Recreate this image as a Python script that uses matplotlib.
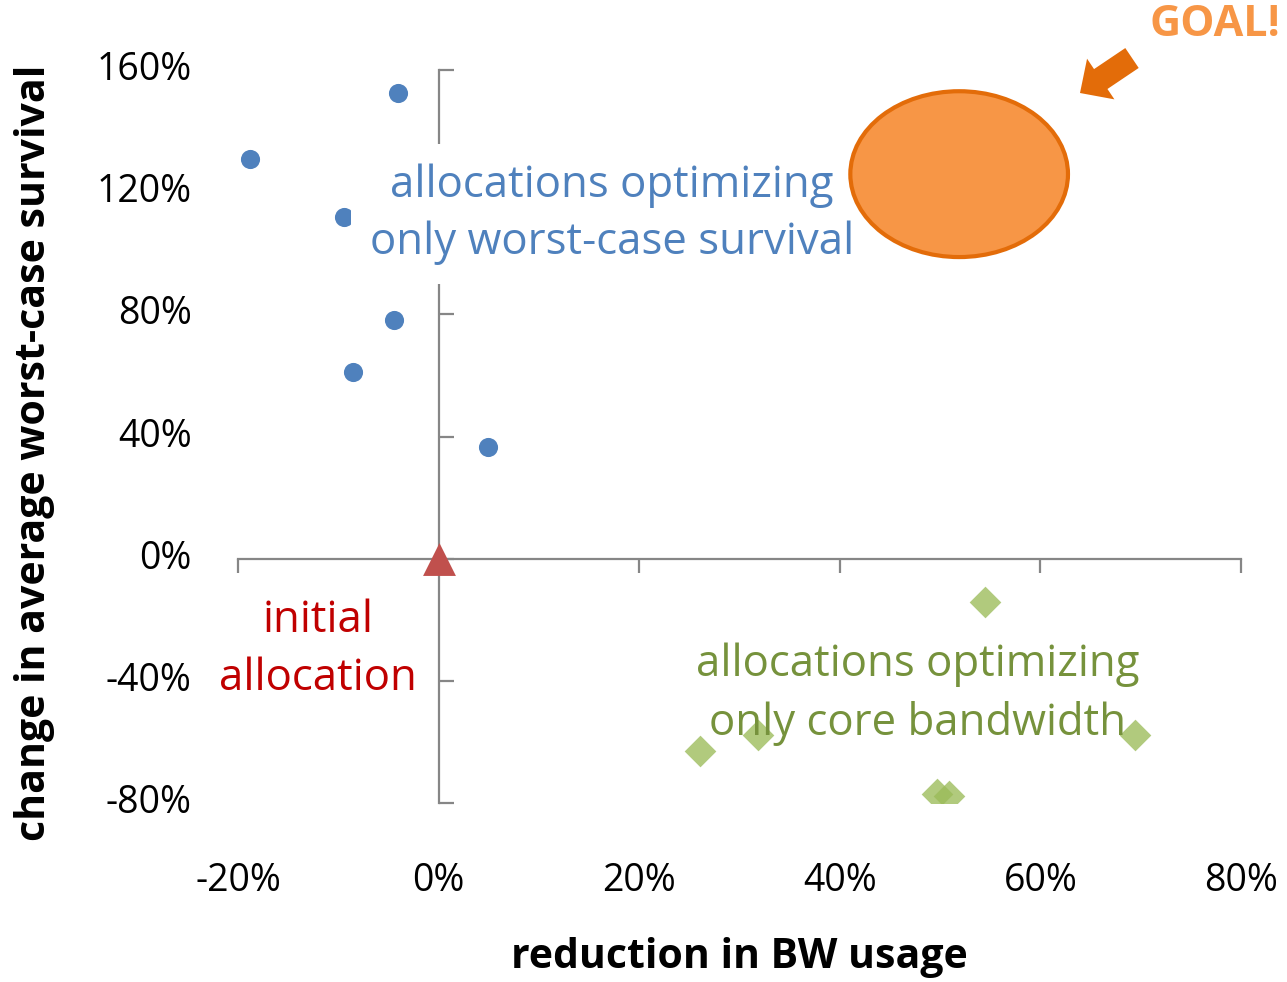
import matplotlib
matplotlib.use("Agg")
import matplotlib.pyplot as plt
from matplotlib.patches import Ellipse, FancyArrow
from matplotlib.transforms import IdentityTransform, blended_transform_factory

plt.rcParams['font.family'] = ['Open Sans', 'DejaVu Sans']

# worst-case survival optimized allocations (x: BW reduction %, y: survival change %)
survival_x = [-4.0, -18.8, -9.4, -4.4, -8.5, 4.9]
survival_y = [152.4, 131.0, 111.8, 78.2, 61.2, 36.6]

# core bandwidth optimized allocations
bandwidth_x = [54.5, 26.1, 31.8, 49.7, 50.9, 69.4]
bandwidth_y = [-14.1, -63.1, -57.6, -77.2, -77.8, -57.6]

# initial allocation
initial_x = [0.0]
initial_y = [0.0]

x_ticks = [-20, 0, 20, 40, 60, 80]
y_ticks = [-80, -40, 0, 40, 80, 120, 160]

# target region drawn as an ellipse (data units)
goal_center = (51.9, 125.9)
goal_size = (21.7, 54.3)

axis_grey = '#868686'

fig = plt.figure(figsize=(12.87, 9.82), dpi=100)
ax = fig.add_axes([238 / 1287, 1 - 803 / 982, (1241 - 238) / 1287, (803 - 70) / 982])
ax.set_xlim(-20, 80)
ax.set_ylim(-80, 160)

for side in ['top', 'right']:
    ax.spines[side].set_visible(False)
ax.spines['left'].set_position(('data', 0))
ax.spines['bottom'].set_position(('data', 0))
for side in ['left', 'bottom']:
    ax.spines[side].set_color(axis_grey)
    ax.spines[side].set_linewidth(1.6)
ax.set_xticks(x_ticks)
ax.set_yticks(y_ticks)
ax.set_xticklabels([])
ax.set_yticklabels([])
ax.tick_params(axis='y', direction='in', length=11, width=1.6, color=axis_grey)
ax.tick_params(axis='x', direction='out', length=10, width=1.6, color=axis_grey)

# tick labels sit at the outer edges, not next to the spines
ty = blended_transform_factory(ax.transAxes, ax.transData)
for v in y_ticks:
    ax.text(-0.046, v, f'{v}%', transform=ty, ha='right', va='center', fontsize=27)
tx = blended_transform_factory(ax.transData, ax.transAxes)
for v in x_ticks:
    ax.text(v, -0.107, f'{v}%', transform=tx, ha='center', va='center', fontsize=27)

ax.scatter(survival_x, survival_y, s=190, color='#4F81BD', zorder=3, linewidths=0)
ax.scatter(bandwidth_x, bandwidth_y, s=260, marker='D', color='#9BBB59', alpha=0.78,
           zorder=3, linewidths=0)
ax.scatter(initial_x, initial_y, s=560, marker='^', color='#C0504D', zorder=4, linewidths=0)

note_size = 31.5
ax.text(17.3, 112.8, 'allocations optimizing\nonly worst-case survival', ha='center', va='center',
        fontsize=note_size, color='#4F81BD', linespacing=1.39, zorder=5,
        bbox=dict(facecolor='white', edgecolor='none', pad=14))
ax.text(47.8, -44.4, 'allocations optimizing\nonly core bandwidth', ha='center', va='center',
        fontsize=note_size, color='#76923C', linespacing=1.39, zorder=5)
ax.text(-12.0, -29.8, 'initial\nallocation', ha='center', va='center',
        fontsize=note_size, color='#C00000', linespacing=1.39, zorder=5)

ax.add_patch(Ellipse(goal_center, goal_size[0], goal_size[1], facecolor='#F79646',
                     edgecolor='#E36C09', linewidth=3.0, zorder=6))

fig.add_artist(FancyArrow(1132, 924, -52, -35, width=24, head_width=49, head_length=25,
                          length_includes_head=True, color='#E36C09', linewidth=0,
                          transform=IdentityTransform()))
fig.text(1215 / 1287, 1 - 25 / 982, 'GOAL!', ha='center', va='center', fontsize=31,
         fontweight='bold', color='#F79646')

fig.text(35 / 1287, 1 - 453 / 982, 'change in average worst-case survival', rotation=90,
         ha='center', va='center', fontsize=29.5, fontweight='bold')
fig.text(739 / 1287, 1 - 958 / 982, 'reduction in BW usage', ha='center', va='center',
         fontsize=29.5, fontweight='bold')

fig.savefig('out.png', dpi=100)
